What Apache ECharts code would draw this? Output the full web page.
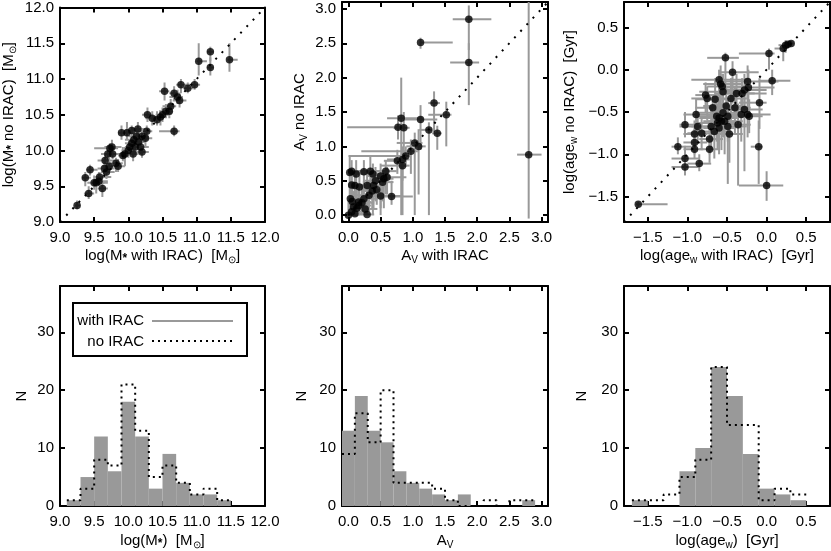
<!DOCTYPE html>
<html>
<head>
<meta charset="utf-8">
<script src="https://cdn.jsdelivr.net/npm/echarts@6/dist/echarts.min.js"></script>
<style>
html, body { margin: 0; padding: 0; background: #fff; }
#main { width: 831px; height: 551px; }
</style>
</head>
<body>
<div id="main"></div>
<script>
// axis ranges and tick labels
var massRange = [9.0, 12.0];
var avRange = [-0.1, 3.1];
var ageRange = [-1.8, 0.8];
var nRange = [0, 38];
var massTicks = [9.0, 9.5, 10.0, 10.5, 11.0, 11.5, 12.0];
var avTicks = [0.0, 0.5, 1.0, 1.5, 2.0, 2.5, 3.0];
var ageTicks = [-1.5, -1.0, -0.5, 0.0, 0.5];
var nTicks = [0, 10, 20, 30];

// scatter points: [with IRAC, no IRAC, x low, x high, y low, y high]
var massPts = [
  [9.25, 9.23, 9.22, 9.3, 9.18, 9.3], [9.37, 9.62, 9.32, 9.45, 9.5, 9.7], [9.42, 9.4, 9.35, 9.5, 9.32, 9.5],
  [9.44, 9.73, 9.38, 9.55, 9.65, 9.8], [9.5, 9.55, 9.4, 9.65, 9.45, 9.65], [9.53, 9.55, 9.45, 9.7, 9.4, 9.62],
  [9.57, 9.57, 9.5, 9.7, 9.5, 9.7], [9.58, 9.63, 9.5, 9.75, 9.55, 9.7], [9.62, 9.47, 9.55, 9.7, 9.35, 9.55],
  [9.65, 9.75, 9.55, 9.8, 9.62, 9.85], [9.66, 9.86, 9.55, 9.8, 9.75, 9.95], [9.68, 9.7, 9.6, 9.8, 9.6, 9.8],
  [9.7, 9.95, 9.6, 9.8, 9.85, 10.05], [9.72, 9.78, 9.62, 9.82, 9.7, 9.9], [9.73, 10.03, 9.5, 9.85, 9.95, 10.1],
  [9.76, 10.05, 9.65, 9.9, 9.95, 10.15], [9.77, 9.95, 9.7, 9.9, 9.88, 10.05], [9.82, 9.82, 9.72, 9.92, 9.7, 9.9],
  [9.85, 9.78, 9.75, 9.95, 9.7, 9.88], [9.9, 10.25, 9.85, 10.0, 10.15, 10.35], [9.92, 9.93, 9.85, 10.0, 9.85, 10.05],
  [9.95, 9.95, 9.85, 10.05, 9.78, 10.05], [9.98, 10.25, 9.9, 10.05, 10.15, 10.4], [10.0, 10.0, 9.9, 10.1, 9.9, 10.1],
  [10.02, 10.05, 9.95, 10.15, 9.95, 10.15], [10.05, 10.28, 9.95, 10.15, 10.2, 10.35], [10.05, 10.1, 9.95, 10.15, 10.0, 10.2],
  [10.07, 9.95, 10.0, 10.15, 9.85, 10.05], [10.08, 10.15, 9.95, 10.2, 10.05, 10.25], [10.1, 10.05, 10.0, 10.2, 9.95, 10.15],
  [10.12, 10.2, 10.0, 10.25, 10.1, 10.3], [10.14, 10.3, 10.05, 10.25, 10.2, 10.4], [10.15, 10.12, 10.05, 10.25, 10.0, 10.2],
  [10.18, 10.05, 10.1, 10.3, 9.95, 10.15], [10.2, 10.2, 10.1, 10.3, 10.1, 10.3], [10.2, 9.98, 10.1, 10.3, 9.9, 10.05],
  [10.25, 10.17, 10.15, 10.35, 10.05, 10.25], [10.27, 10.27, 10.15, 10.35, 10.15, 10.35], [10.28, 10.5, 10.2, 10.35, 10.4, 10.6],
  [10.35, 10.45, 10.25, 10.45, 10.35, 10.55], [10.42, 10.43, 10.35, 10.5, 10.35, 10.55], [10.47, 10.47, 10.35, 10.55, 10.35, 10.55],
  [10.5, 10.5, 10.4, 10.6, 10.4, 10.6], [10.53, 10.83, 10.45, 10.6, 10.7, 10.95], [10.55, 10.55, 10.45, 10.6, 10.45, 10.65],
  [10.6, 10.55, 10.5, 10.65, 10.45, 10.65], [10.62, 10.62, 10.5, 10.7, 10.5, 10.72], [10.67, 10.27, 10.45, 10.75, 10.2, 10.35],
  [10.67, 10.8, 10.6, 10.75, 10.7, 10.9], [10.72, 10.75, 10.6, 10.8, 10.65, 10.85], [10.75, 10.7, 10.65, 10.85, 10.6, 10.8],
  [10.77, 10.92, 10.7, 10.85, 10.8, 11.0], [10.87, 10.87, 10.8, 10.95, 10.8, 10.95], [10.97, 10.92, 10.85, 11.05, 10.85, 11.0],
  [11.03, 11.25, 11.0, 11.15, 11.05, 11.5], [11.2, 11.38, 11.15, 11.25, 11.25, 11.45], [11.2, 11.16, 11.15, 11.25, 11.05, 11.3],
  [11.48, 11.27, 11.45, 11.6, 11.1, 11.5]
];
var avPts = [
  [1.87, 2.85, 1.62, 2.22, 2.4, 3.05], [1.87, 2.22, 1.58, 2.03, 1.6, 2.5], [1.12, 2.51, 1.12, 1.62, 2.42, 2.58],
  [2.8, 0.88, 2.62, 3.0, -0.05, 3.1], [1.33, 1.63, 1.24, 1.42, 1.2, 1.8], [1.52, 1.46, 1.24, 1.6, 1.0, 1.65],
  [0.82, 1.41, 0.6, 1.15, 0.0, 2.0], [1.12, 1.39, 0.87, 1.38, 0.95, 1.6], [0.77, 1.28, -0.02, 0.87, 1.1, 1.45],
  [0.86, 1.27, 0.7, 0.95, 0.8, 1.5], [1.25, 1.24, 1.1, 1.3, 0.0, 1.35], [1.38, 1.19, 1.3, 1.45, 0.95, 1.3],
  [1.03, 1.05, 0.75, 1.15, 0.0, 1.2], [1.09, 1.0, 0.9, 1.2, 0.3, 1.25], [0.97, 0.93, 0.2, 1.08, 0.6, 1.1],
  [0.89, 0.86, 0.0, 0.95, 0.7, 1.0], [0.84, 0.81, 0.6, 0.95, 0.0, 1.0], [0.76, 0.79, 0.55, 0.9, 0.6, 0.95],
  [0.84, 0.72, 0.5, 0.95, 0.5, 0.85], [0.67, 0.27, 0.45, 1.0, 0.15, 0.5],
  [0.02, 0.62, 0.0, 0.35, 0.0, 0.85], [0.05, 0.64, 0.0, 0.3, 0.4, 0.8], [0.12, 0.6, 0.0, 0.3, 0.0, 0.8],
  [0.24, 0.63, 0.05, 0.45, 0.4, 0.8], [0.34, 0.64, 0.1, 0.55, 0.3, 0.85], [0.38, 0.6, 0.2, 0.6, 0.0, 0.75],
  [0.5, 0.57, 0.3, 0.65, 0.1, 0.75], [0.58, 0.64, 0.4, 0.75, 0.3, 0.8], [0.55, 0.53, 0.35, 0.7, 0.1, 0.65],
  [0.6, 0.55, 0.4, 0.9, 0.3, 0.7], [0.05, 0.44, 0.0, 0.2, 0.2, 0.65], [0.1, 0.43, 0.0, 0.3, 0.1, 0.6],
  [0.17, 0.41, 0.0, 0.35, 0.0, 0.6], [0.29, 0.43, 0.1, 0.5, 0.1, 0.65], [0.39, 0.43, 0.2, 0.6, 0.1, 0.6],
  [0.44, 0.37, 0.25, 0.55, 0.15, 0.6], [0.03, 0.24, 0.0, 0.2, 0.0, 0.5], [0.06, 0.2, 0.0, 0.25, 0.0, 0.45],
  [0.16, 0.19, 0.0, 0.35, 0.0, 0.45], [0.24, 0.24, 0.05, 0.45, 0.0, 0.5], [0.32, 0.29, 0.1, 0.5, 0.05, 0.5],
  [0.5, 0.28, 0.3, 0.85, 0.0, 0.45], [0.08, 0.12, 0.0, 0.25, 0.0, 0.35], [0.16, 0.14, 0.0, 0.35, 0.0, 0.4],
  [0.26, 0.09, 0.1, 0.45, 0.0, 0.3], [0.0, 0.0, 0.0, 0.15, 0.0, 0.2], [0.05, 0.05, 0.0, 0.2, 0.0, 0.25],
  [0.1, 0.02, 0.0, 0.25, 0.0, 0.2], [0.29, 0.01, 0.15, 0.4, 0.0, 0.2], [0.13, 0.1, 0.0, 0.3, 0.0, 0.35],
  [0.21, 0.18, 0.05, 0.4, 0.0, 0.45], [0.37, 0.35, 0.2, 0.55, 0.1, 0.6], [0.42, 0.5, 0.25, 0.6, 0.2, 0.7],
  [0.53, 0.48, 0.35, 0.7, 0.2, 0.65]
];
var agePts = [
  [-1.62, -1.59, -1.65, -1.25, -1.62, -1.56], [0.21, 0.25, 0.1, 0.25, 0.1, 0.3], [0.24, 0.29, 0.15, 0.3, 0.2, 0.35],
  [0.27, 0.3, 0.2, 0.32, 0.25, 0.33], [0.31, 0.31, 0.25, 0.34, 0.28, 0.34], [0.03, 0.19, -0.35, 0.1, 0.0, 0.25],
  [0.07, -0.13, -0.1, 0.3, -0.3, 0.0], [-0.09, -0.39, -0.35, 0.0, -0.7, -0.1], [-0.1, -0.91, -0.2, -0.05, -1.35, -0.6],
  [0.0, -1.37, -0.35, 0.21, -1.55, -1.2], [-0.52, 0.14, -0.75, -0.35, -0.3, 0.2], [-0.43, -0.03, -0.6, -0.1, -0.4, 0.1],
  [-0.6, -0.12, -0.95, -0.2, -0.5, 0.0], [-0.58, -0.17, -0.8, -0.3, -0.6, 0.05], [-0.56, -0.2, -0.75, -0.25, -0.55, -0.05],
  [-0.24, -0.14, -0.55, 0.15, -0.35, 0.05], [-0.23, -0.21, -0.6, 0.1, -0.4, 0.0], [-0.28, -0.24, -0.55, 0.0, -0.45, -0.05],
  [-0.31, -0.28, -0.65, 0.0, -0.5, -0.1], [-0.45, -0.34, -0.7, -0.25, -0.6, -0.1], [-0.55, -0.26, -0.85, -0.3, -0.65, -0.05],
  [-0.77, -0.3, -0.9, -0.6, -0.5, -0.15], [-0.75, -0.34, -0.95, -0.6, -0.6, -0.2], [-0.68, -0.45, -0.9, -0.5, -0.7, -0.3],
  [-0.51, -0.43, -0.8, -0.3, -0.7, -0.2], [-0.55, -0.51, -0.85, -0.3, -0.8, -0.3], [-0.49, -0.55, -0.75, -0.25, -0.85, -0.35],
  [-0.53, -0.61, -0.8, -0.3, -1.0, -0.4], [-0.6, -0.57, -0.85, -0.35, -0.9, -0.35], [-0.62, -0.63, -0.9, -0.4, -0.95, -0.4],
  [-0.7, -0.67, -0.95, -0.45, -0.95, -0.45], [-0.66, -0.73, -0.9, -0.45, -1.05, -0.5], [-0.6, -0.69, -0.8, -0.4, -1.0, -0.45],
  [-0.57, -0.61, -0.75, -0.4, -0.95, -0.4], [-0.49, -0.67, -0.65, -0.25, -1.35, -0.4], [-0.47, -0.76, -0.6, -0.3, -1.1, -0.5],
  [-0.32, -0.53, -0.5, -0.1, -0.85, -0.3], [-0.24, -0.53, -0.45, 0.05, -0.8, -0.3], [-0.22, -0.55, -0.4, -0.05, -0.75, -0.35],
  [-0.36, -0.65, -0.5, -0.2, -1.37, -0.4], [-0.28, -0.47, -0.45, -0.05, -1.2, -0.25], [-0.89, -0.53, -1.05, -0.7, -0.75, -0.35],
  [-0.87, -0.67, -1.1, -0.7, -0.85, -0.5], [-0.82, -0.75, -1.0, -0.6, -0.95, -0.55], [-0.91, -0.76, -1.05, -0.75, -0.9, -0.6],
  [-0.72, -0.82, -0.85, -0.55, -1.0, -0.65], [-0.72, -0.94, -0.85, -0.6, -1.1, -0.8], [-0.91, -0.86, -1.05, -0.75, -1.0, -0.7],
  [-0.91, -0.94, -1.05, -0.8, -1.05, -0.8], [-0.85, -1.11, -1.0, -0.7, -1.2, -1.0], [-1.03, -0.65, -1.1, -0.9, -0.8, -0.5],
  [-1.12, -0.91, -1.2, -0.95, -1.0, -0.8], [-1.03, -1.05, -1.2, -0.85, -1.2, -0.9], [-1.03, -1.15, -1.2, -0.85, -1.25, -1.05],
  [-0.63, -0.55, -0.9, -0.35, -0.85, -0.3], [-0.65, -0.35, -0.9, -0.4, -0.65, -0.1], [-0.4, -0.45, -0.6, -0.2, -0.75, -0.2],
  [-0.38, -0.28, -0.5, -0.15, -0.5, -0.05]
];

// histograms: left bin edges, counts with IRAC (grey) and without IRAC (dotted)
var binWidth = 0.2;
var massBins = [9.1, 9.3, 9.5, 9.7, 9.9, 10.1, 10.3, 10.5, 10.7, 10.9, 11.1, 11.3];
var massWith = [1, 5, 12, 6, 18, 12, 3, 9, 4, 2, 2, 1];
var massNo   = [1, 3, 8, 7, 21, 13, 5, 7, 4, 2, 3, 1];
var avBins = [-0.1, 0.1, 0.3, 0.5, 0.7, 0.9, 1.1, 1.3, 1.5, 1.7, 1.9, 2.1, 2.3, 2.5, 2.7];
var avWith = [13, 19, 13, 11, 6, 4, 3, 2, 1, 2, 0, 0, 0, 0, 1];
var avNo   = [9, 16, 11, 20, 4, 4, 4, 3, 1, 0, 0, 1, 0, 1, 1];
var ageBins = [-1.7, -1.5, -1.3, -1.1, -0.9, -0.7, -0.5, -0.3, -0.1, 0.1, 0.3];
var ageWith = [1, 0, 0, 6, 10, 24, 19, 9, 3, 2, 1];
var ageNo   = [1, 1, 2, 5, 8, 24, 14, 14, 1, 3, 2];

var FONT = 'Liberation Sans, Arial, Helvetica, sans-serif';
var FS = 15;
var GREY = '#999999';

var grids = [
  {left: 60, top: 2, width: 205, height: 220},
  {left: 342, top: 2, width: 206, height: 220},
  {left: 624, top: 2, width: 206, height: 220},
  {left: 60, top: 286, width: 205, height: 222},
  {left: 342, top: 286, width: 206, height: 222},
  {left: 624, top: 286, width: 206, height: 222}
];

function fmt1(v) {
  return (v < 0 ? '\u2212' : '') + Math.abs(v).toFixed(1);
}
function fmt0(v) {
  return String(Math.round(v));
}

// rich styles: n = normal text, s = subscript, a = subscript star
var richSub = {
  s: {fontSize: 10, fontFamily: FONT, color: '#000', verticalAlign: 'bottom', lineHeight: 11},
  a: {fontSize: 12, fontFamily: FONT, fontWeight: 'bold', color: '#000', verticalAlign: 'bottom', lineHeight: 10},
  n: {fontSize: FS, fontFamily: FONT, color: '#000', lineHeight: 18}
};

function axisPair(dir, gi, range, ticks, fmt, name, gap) {
  var base = {
    gridIndex: gi, type: 'value', min: range[0], max: range[1],
    axisLine: {show: true, onZero: false, lineStyle: {color: '#000', width: 2}},
    axisTick: {show: true, inside: true, length: 5, customValues: ticks, lineStyle: {color: '#000', width: 2}},
    splitLine: {show: false}
  };
  var main = Object.assign({}, base, {
    position: dir === 'x' ? 'bottom' : 'left',
    axisLabel: {
      show: true, customValues: ticks, formatter: fmt, color: '#000', fontSize: FS,
      fontFamily: FONT, margin: dir === 'x' ? 8 : 6, hideOverlap: false, showMinLabel: true, showMaxLabel: true
    },
    name: name, nameLocation: 'middle', nameGap: gap,
    nameTextStyle: {fontSize: FS, fontFamily: FONT, color: '#000', rich: richSub}
  });
  var other = Object.assign({}, base, {
    position: dir === 'x' ? 'top' : 'right',
    axisLabel: {show: false}
  });
  return [main, other];
}

var xAxes = [], yAxes = [];
function addPanel(gi, xr, xt, xn, xg, yr, yt, yfmt, yn, yg) {
  xAxes = xAxes.concat(axisPair('x', gi, xr, xt, fmt1, xn, xg));
  yAxes = yAxes.concat(axisPair('y', gi, yr, yt, yfmt, yn, yg));
}
addPanel(0, massRange, massTicks, '{n|log(M}{a|*}{n| with IRAC)  [M}{s|\u2299}{n|]}', 25,
         massRange, massTicks, fmt1, '{n|log(M}{a|*}{n| no IRAC)  [M}{s|\u2299}{n|]}', 42);
addPanel(1, avRange, avTicks, '{n|A}{s|V}{n| with IRAC}', 25,
         avRange, avTicks, fmt1, '{n|A}{s|V}{n| no IRAC}', 33);
addPanel(2, ageRange, ageTicks, '{n|log(age}{s|w}{n| with IRAC)  [Gyr]}', 25,
         ageRange, ageTicks, fmt1, '{n|log(age}{s|w}{n| no IRAC)  [Gyr]}', 45);
addPanel(3, massRange, massTicks, '{n|log(M}{a|*}{n|)  [M}{s|\u2299}{n|]}', 26,
         nRange, nTicks, fmt0, 'N', 31);
addPanel(4, avRange, avTicks, '{n|A}{s|V}', 26,
         nRange, nTicks, fmt0, 'N', 33);
addPanel(5, ageRange, ageTicks, '{n|log(age}{s|w}{n|)  [Gyr]}', 26,
         nRange, nTicks, fmt0, 'N', 35);

var series = [];

function scatterPanel(gi, pts, range) {
  var ax = gi * 2;
  series.push({
    type: 'custom', xAxisIndex: ax, yAxisIndex: ax, data: pts, silent: true, clip: true, z: 2,
    encode: {x: [0, 2, 3], y: [1, 4, 5]},
    renderItem: function (params, api) {
      var xl = api.coord([api.value(2), api.value(1)]);
      var xh = api.coord([api.value(3), api.value(1)]);
      var yl = api.coord([api.value(0), api.value(4)]);
      var yh = api.coord([api.value(0), api.value(5)]);
      var st = {stroke: GREY, lineWidth: 2};
      return {type: 'group', children: [
        {type: 'line', shape: {x1: xl[0], y1: xl[1], x2: xh[0], y2: xh[1]}, style: st},
        {type: 'line', shape: {x1: yl[0], y1: yl[1], x2: yh[0], y2: yh[1]}, style: st}
      ]};
    }
  });
  series.push({
    type: 'line', xAxisIndex: ax, yAxisIndex: ax, silent: true, z: 3,
    data: [[range[0], range[0]], [range[1], range[1]]],
    symbol: 'none', lineStyle: {color: '#000', width: 2, type: [2, 7]}
  });
  series.push({
    type: 'scatter', xAxisIndex: ax, yAxisIndex: ax, silent: true, z: 4,
    data: pts.map(function (p) { return [p[0], p[1]]; }),
    symbolSize: 7.5, itemStyle: {color: '#000'}
  });
}

function histPanel(gi, bins, withIrac, noIrac) {
  var ax = gi * 2;
  series.push({
    type: 'custom', xAxisIndex: ax, yAxisIndex: ax, silent: true, z: 2,
    data: bins.map(function (lo, i) { return [lo, lo + binWidth, withIrac[i]]; }),
    encode: {x: [0, 1], y: 2},
    renderItem: function (params, api) {
      var p0 = api.coord([api.value(0), 0]);
      var p1 = api.coord([api.value(1), api.value(2)]);
      return {type: 'rect', shape: {x: p0[0], y: p1[1], width: p1[0] - p0[0], height: p0[1] - p1[1]},
              style: {fill: GREY}};
    }
  });
  var step = [];
  bins.forEach(function (lo, i) {
    step.push([lo, noIrac[i]]);
    step.push([lo + binWidth, noIrac[i]]);
  });
  series.push({
    type: 'line', xAxisIndex: ax, yAxisIndex: ax, silent: true, z: 3, data: step,
    symbol: 'none', lineStyle: {color: '#000', width: 2, type: [2, 4]}
  });
}

scatterPanel(0, massPts, massRange);
scatterPanel(1, avPts, avRange);
scatterPanel(2, agePts, ageRange);
histPanel(3, massBins, massWith, massNo);
histPanel(4, avBins, avWith, avNo);
histPanel(5, ageBins, ageWith, ageNo);

var chart = echarts.init(document.getElementById('main'), null, {renderer: 'canvas'});
chart.setOption({
  animation: false,
  backgroundColor: '#fff',
  grid: grids,
  xAxis: xAxes,
  yAxis: yAxes,
  series: series,
  graphic: [
    {type: 'rect', shape: {x: 73, y: 303, width: 174, height: 53}, style: {fill: 'none', stroke: '#000', lineWidth: 2}},
    {type: 'text', x: 144, y: 321, style: {text: 'with IRAC', align: 'right', verticalAlign: 'middle', fontSize: FS, fontFamily: FONT, fill: '#000'}},
    {type: 'line', shape: {x1: 152, y1: 321, x2: 233, y2: 321}, style: {stroke: GREY, lineWidth: 2}},
    {type: 'text', x: 144, y: 342, style: {text: 'no IRAC', align: 'right', verticalAlign: 'middle', fontSize: FS, fontFamily: FONT, fill: '#000'}},
    {type: 'line', shape: {x1: 152, y1: 341, x2: 233, y2: 341}, style: {stroke: '#000', lineWidth: 2, lineDash: [2, 4]}}
  ]
});
</script>
</body>
</html>
